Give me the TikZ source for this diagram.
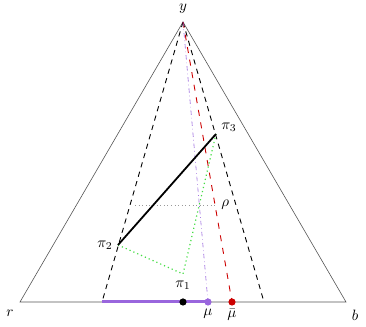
\documentclass[tikz,border=0pt]{standalone}
\usepackage{amsmath}
\usepackage{xcolor}
\usepackage{tikz}
\usetikzlibrary{positioning,calc}
\definecolor{cMean}{HTML}{9966DD}
\definecolor{cBar} {HTML}{CC0000}
\definecolor{cPath}{HTML}{44DD44}
\definecolor{cEdge}{HTML}{555555}

\begin{document}
\begin{tikzpicture}[x=0.2345cm,y=0.2345cm]
        \useasboundingbox (0,0) rectangle (36.6,32.7);
        \coordinate (y)  at (18.3,30.5);   % apex
        \coordinate (r)  at (2.0,2.5);
        \coordinate (b)  at (34.6,2.5);
        \coordinate (pL) at (10.2,2.5);    % foot of pi2
        \coordinate (pR) at (26.4,2.5);    % foot of pi3
        \coordinate (p1) at (18.3,5.3);
        \coordinate (p2) at (11.8,8.2);
        \coordinate (p3) at (21.6,19.3);
        \coordinate (f1) at (18.3,2.5);    % foot of pi1
        \coordinate (mu) at (20.8,2.5);
        \coordinate (mb) at (23.2,2.5);
        \coordinate (rL) at (13.5,12.2);
        \coordinate (rR) at (21.6,12.2);
        \draw[cEdge] (r) -- (y) -- (b) -- cycle;                  % simplex
        \draw[semithick,dash pattern=on 3.5pt off 3pt] (y) -- (pL);
        \draw[semithick,dash pattern=on 3.5pt off 3pt] (y) -- (pR);
        \draw[cBar,semithick,dash pattern=on 4pt off 4.5pt] (y) -- (mb);
        \draw[cMean,dash dot] (y) -- (mu);
        \draw[gray!80,dotted] (rL) -- (rR);                       % level of rho
        \draw[cPath,thick,dotted] (p2) -- (p1) -- (p3);
        \draw[very thick] (p2) -- (p3);
        \draw[cMean,line width=2pt] (pL) -- (mu);                 % hull
        \fill (f1) circle (2.4pt);
        \fill[cMean] (mu) circle (2.4pt);
        \fill[cBar] (mb) circle (2.4pt);
        \node (ly)  at (18.3,31.8) {$y$};
        \node (lr)  at (1.0,1.4)   {$r$};
        \node (lb)  at (35.5,1.2)  {$b$};
        \node (l1)  at (18.3,4.2)  {$\pi_1$};
        \node[left=0pt of p2]       (l2) {$\pi_2$};
        \node[above right=-2pt and 0pt of p3] (l3) {$\pi_3$};
        \node[right=0pt of rR]      (lrho) {$\rho$};
        \node (lmu) at (20.8,1.3)  {$\mu$};
        \node (lmb) at (23.2,1.2)  {$\bar{\mu}$};
      \end{tikzpicture}
\end{document}
